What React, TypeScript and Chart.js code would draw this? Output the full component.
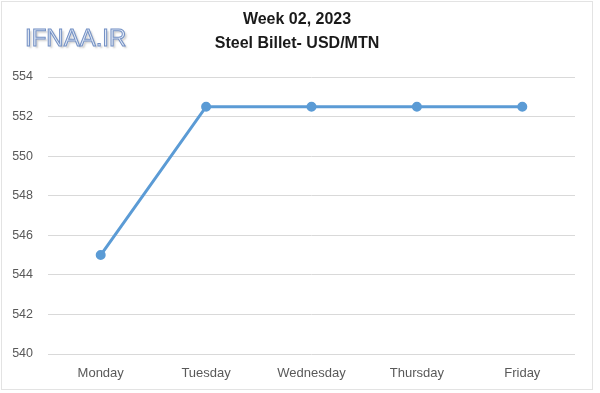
import React, { useEffect, useRef } from "react";
import { Chart, registerables } from "chart.js";

Chart.register(...registerables);

const categories = ["Monday", "Tuesday", "Wednesday", "Thursday", "Friday"];
const prices = [545, 552.5, 552.5, 552.5, 552.5];
const titleLines = ["Week 02, 2023", "Steel Billet- USD/MTN"];
const watermark = "IFNAA.IR";
const yMin = 540;
const yMax = 554;
const yStep = 2;

const decorPlugin = {
  id: "decor",
  beforeDraw(chart: any) {
    const ctx = chart.ctx;
    ctx.save();
    ctx.fillStyle = "#ffffff";
    ctx.fillRect(0, 0, chart.width, chart.height);
    ctx.strokeStyle = "#e3e3e3";
    ctx.lineWidth = 1;
    ctx.strokeRect(1.5, 1.5, 591, 388);
    ctx.restore();
  },
  afterDraw(chart: any) {
    const ctx = chart.ctx;
    ctx.save();
    // title
    ctx.fillStyle = "#1a1a1a";
    ctx.font = "bold 16px 'Liberation Sans', Arial, sans-serif";
    ctx.textAlign = "center";
    ctx.textBaseline = "middle";
    ctx.fillText(titleLines[0], 297, 20);
    ctx.fillText(titleLines[1], 297, 44);
    // watermark
    ctx.font = "24px 'Liberation Sans', Arial, sans-serif";
    ctx.textAlign = "left";
    ctx.textBaseline = "alphabetic";
    ctx.shadowColor = "rgba(140,140,140,0.45)";
    ctx.shadowOffsetX = 2;
    ctx.shadowOffsetY = 2;
    ctx.shadowBlur = 2;
    ctx.fillStyle = "#e2eaf6";
    ctx.fillText(watermark, 25, 46);
    ctx.shadowColor = "transparent";
    ctx.strokeStyle = "#7390c4";
    ctx.lineWidth = 1;
    ctx.strokeText(watermark, 25, 46);
    ctx.restore();
  },
};

export default function App() {
  const ref = useRef<HTMLCanvasElement>(null);
  useEffect(() => {
    if (!ref.current) return;
    const chart = new Chart(ref.current, {
      type: "line",
      data: {
        labels: categories,
        datasets: [
          {
            data: prices,
            borderColor: "#5b9bd5",
            backgroundColor: "#5b9bd5",
            borderWidth: 3,
            pointRadius: 3.5,
            pointHoverRadius: 3.5,
            pointBackgroundColor: "#5b9bd5",
            pointBorderColor: "#5b9bd5",
            tension: 0,
          },
        ],
      },
      options: {
        animation: false,
        responsive: false,
        maintainAspectRatio: false,
        layout: { padding: { left: 0, right: 25, top: 77, bottom: 0 } },
        plugins: {
          legend: { display: false },
          title: { display: false },
          tooltip: { enabled: false },
        },
        scales: {
          x: {
            offset: true,
            grid: { display: false, drawTicks: false },
            border: { display: false },
            ticks: {
              color: "#595959",
              font: { family: "'Liberation Sans', Arial, sans-serif", size: 13 },
              padding: 12,
              maxRotation: 0,
            },
            afterFit(scale: any) {
              scale.height = 39;
            },
          },
          y: {
            min: yMin,
            max: yMax,
            grid: { color: "#d9d9d9", lineWidth: 1, drawTicks: false },
            border: { display: false },
            ticks: {
              stepSize: yStep,
              color: "#595959",
              font: { family: "'Liberation Sans', Arial, sans-serif", size: 12.5 },
              padding: 15,
            },
            afterFit(scale: any) {
              scale.width = 48;
            },
          },
        },
      },
      plugins: [decorPlugin],
    });
    return () => chart.destroy();
  }, []);
  return (
    <div style={{ position: "fixed", left: 0, top: 0, width: 600, height: 393 }}>
      <canvas ref={ref} width={600} height={393} style={{ display: "block" }} />
    </div>
  );
}
